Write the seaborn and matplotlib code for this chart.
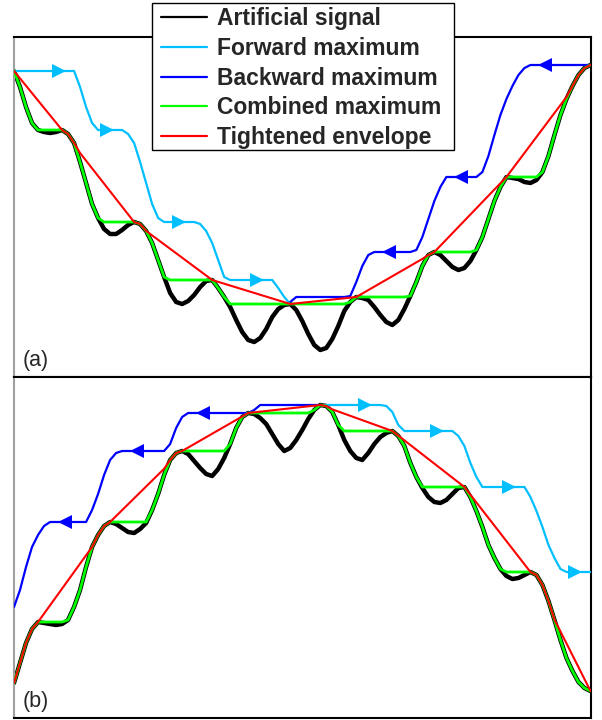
import numpy as np
import pandas as pd
import matplotlib
matplotlib.use('Agg')
import matplotlib.pyplot as plt
from matplotlib.lines import Line2D
from matplotlib.patches import Rectangle
import seaborn as sns

#-------Settings

sns.set_theme(style="white")
plt.rcParams['font.family'] = ['Liberation Sans', 'DejaVu Sans']

#-------Data (signal, one sample every 6 px)

t = np.arange(97) * 6

signal_a = [306, 290, 270, 254, 247, 245, 244, 245, 247, 243,
            234, 215, 194, 173, 159, 148, 143, 143, 147, 152,
            155, 153, 146, 134, 117, 100, 84, 75, 73, 76,
            82, 90, 96, 97, 89, 80, 70, 57, 45, 37,
            35, 39, 48, 60, 68, 72, 73, 67, 56, 43,
            32, 27, 29, 38, 51, 66, 75, 80, 79, 77,
            70, 62, 55, 52, 57, 68, 81, 95, 111, 122,
            125, 122, 116, 110, 107, 109, 116, 127, 140, 158,
            176, 190, 200, 199, 198, 195, 194, 197, 205, 221,
            242, 262, 278, 291, 302, 309, 312]

signal_b = [35, 55, 75, 89, 96, 95, 94, 93, 94, 98,
            111, 128, 151, 171, 183, 192, 196, 194, 190, 186,
            185, 189, 195, 208, 224, 243, 258, 265, 267, 264,
            257, 250, 244, 242, 249, 260, 274, 290, 301, 305,
            304, 300, 294, 284, 274, 267, 270, 278, 288, 299,
            308, 313, 312, 306, 293, 278, 267, 260, 258, 265,
            274, 281, 285, 287, 282, 272, 255, 241, 230, 221,
            216, 215, 218, 224, 230, 231, 221, 207, 191, 173,
            160, 149, 142, 139, 140, 143, 146, 143, 133, 117,
            98, 78, 60, 47, 36, 30, 27]

labels = ['Artificial signal', 'Forward maximum', 'Backward maximum',
          'Combined maximum', 'Tightened envelope']
colors = ['black', '#00BFFF', '#0000FF', '#00FF00', '#FF0000']
window = 10  # samples covered by the running maxima


def analyse(s):
    s = pd.Series(s, dtype=float)
    fwd = s.rolling(window + 1, min_periods=1).max().to_numpy()
    bwd = s[::-1].rolling(window + 1, min_periods=1).max()[::-1].to_numpy()
    v = s.to_numpy()
    n = len(v)
    pk = [0] + [i for i in range(1, n - 1) if v[i] >= v[i - 1] and v[i] > v[i + 1]] + [n - 1]
    env = np.maximum(v, np.interp(t, t[pk], v[pk]))
    comb = np.minimum(fwd, bwd)
    # where forward and backward maxima swap roles
    sg = np.sign(fwd - bwd)
    score = np.array([sg[:k].sum() - sg[k:].sum() for k in range(n)])
    split = int(np.argmax(np.abs(score)))
    fwd_left = sg[:split].sum() > 0
    return v, fwd, bwd, comb, env, pk, split, fwd_left


def draw_panel(ax, s, tag):
    v, fwd, bwd, comb, env, pk, split, fwd_left = analyse(s)
    n = len(v)
    idx = np.arange(n)
    if fwd_left:
        rng_f, rng_b = (0, split), (split, n - 1)
    else:
        rng_f, rng_b = (split, n - 1), (0, split)

    sns.lineplot(x=t, y=v, ax=ax, color=colors[0], lw=3.2, sort=False, zorder=2)
    sl_f = slice(rng_f[0], rng_f[1] + 1)
    sl_b = slice(rng_b[0], rng_b[1] + 1)
    sns.lineplot(x=t[sl_f], y=fwd[sl_f], ax=ax, color=colors[1], lw=1.6, sort=False, zorder=3)
    sns.lineplot(x=t[sl_b], y=bwd[sl_b], ax=ax, color=colors[2], lw=1.6, sort=False, zorder=3)
    sns.lineplot(x=t, y=comb, ax=ax, color=colors[3], lw=2.0, sort=False, zorder=4)
    sns.lineplot(x=t, y=env, ax=ax, color=colors[4], lw=1.5, sort=False, zorder=5)

    # direction arrows on the flat parts of the running maxima
    step = t[1] - t[0]
    off = 0.75 * window
    fa = [p + off for p in pk if rng_f[0] <= p + off <= rng_f[1]
          and np.isclose(np.interp(p + off, idx, fwd), v[p])]
    cand = [p for p in pk if rng_b[0] <= p - off <= rng_b[1]
            and np.isclose(np.interp(p - off, idx, bwd), v[p])]
    if cand:
        near = min(cand, key=lambda p: abs(p - split))
        cand = [p for p in cand if p != near]
    ba = [p - off for p in cand]
    ax.plot(np.array(fa) * step, np.interp(fa, idx, fwd), ls='none', marker='>',
            ms=9.5, mew=0, color=colors[1], zorder=3)
    ax.plot(np.array(ba) * step, np.interp(ba, idx, bwd), ls='none', marker='<',
            ms=9.5, mew=0, color=colors[2], zorder=3)

    ax.set_xlim(0, 576)
    ax.set_xticks([])
    ax.set_yticks([])
    ax.set_xlabel('')
    ax.set_ylabel('')
    for side in ['top', 'bottom', 'right']:
        ax.spines[side].set_color('black')
        ax.spines[side].set_linewidth(1.5)
    ax.spines['left'].set_color('#a0a0a0')
    ax.spines['left'].set_linewidth(1.5)
    ax.text(0.015, 0.033, tag, transform=ax.transAxes, fontsize=15.5, va='baseline')


fig = plt.figure(figsize=(6.02, 7.2), dpi=100)
ax_a = fig.add_axes([14 / 602, 343 / 720, 576.5 / 602, 340 / 720])
ax_b = fig.add_axes([14 / 602, 2 / 720, 576.5 / 602, 341 / 720])

draw_panel(ax_a, signal_a, '(a)')
ax_a.set_ylim(0, 340)
draw_panel(ax_b, signal_b, '(b)')
ax_b.set_ylim(0, 341)

# legend box sits over the top of panel (a)
box = Rectangle((152 / 602, 1 - 150 / 720), 302 / 602, 147 / 720, transform=fig.transFigure,
                facecolor='white', edgecolor='black', lw=1.0, zorder=5)
fig.add_artist(box)

handles = [Line2D([], [], color=c, lw=1.6) for c in colors]
leg = fig.legend(handles, labels, loc='upper left', bbox_to_anchor=(161 / 602, 1 - 7.5 / 720),
                 borderaxespad=0, frameon=False, handlelength=2.0, handletextpad=0.45,
                 borderpad=0, labelspacing=0.29, prop={'weight': 'bold', 'size': 16.5})
leg.set_zorder(6)

plt.savefig('out.png', dpi=100)
plt.close()
